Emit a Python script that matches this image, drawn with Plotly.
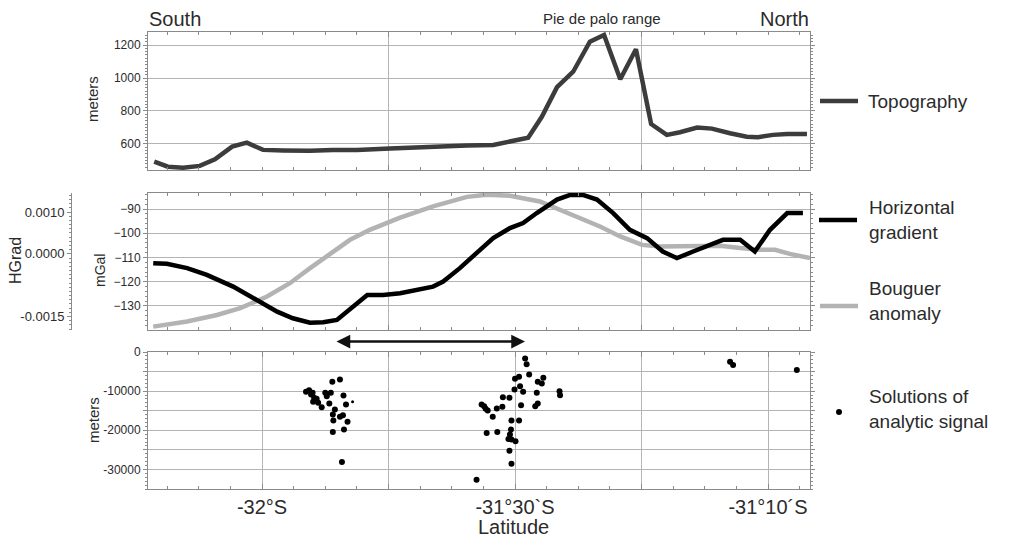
import plotly.graph_objects as go

W, H = 1009, 539

# ---------------- data ----------------
topo_lat = [-32.213, -32.186, -32.156, -32.123, -32.093, -32.059, -32.030, -31.998, -31.958,
            -31.905, -31.860, -31.812, -31.747, -31.694, -31.662, -31.595, -31.543, -31.510,
            -31.474, -31.447, -31.417, -31.385, -31.352, -31.324, -31.292, -31.261, -31.231,
            -31.200, -31.174, -31.140, -31.111, -31.075, -31.042, -31.020, -30.990, -30.962,
            -30.923]
topo_m = [493, 462, 456, 467, 507, 584, 608, 564, 560, 558, 564, 564, 572, 578, 588, 590, 594,
          614, 638, 765, 944, 1038, 1220, 1261, 992, 1174, 721, 655, 671, 699, 693, 665, 644,
          641, 655, 661, 661]

boug_lat = [-32.215, -32.148, -32.089, -32.043, -31.990, -31.945, -31.905, -31.860, -31.826,
            -31.787, -31.727, -31.662, -31.595, -31.555, -31.510, -31.451, -31.411, -31.372,
            -31.332, -31.292, -31.249, -31.213, -31.154, -31.095, -31.055, -31.016, -30.986,
            -30.957, -30.917]
boug_mgal = [-138.5, -136.4, -133.7, -130.9, -126.1, -120.6, -114.4, -107.5, -102.7, -98.6,
             -93.6, -88.9, -85.0, -84.1, -84.5, -86.9, -90.3, -93.7, -97.2, -101.3, -104.8,
             -105.5, -105.5, -105.2, -106.1, -106.8, -106.8, -108.5, -110.2]

hg_lat = [-32.215, -32.188, -32.148, -32.109, -32.057, -32.010, -31.970, -31.939, -31.905,
          -31.879, -31.852, -31.792, -31.761, -31.727, -31.662, -31.642, -31.609, -31.569,
          -31.543, -31.510, -31.484, -31.457, -31.417, -31.391, -31.366, -31.338, -31.306,
          -31.273, -31.239, -31.208, -31.180, -31.148, -31.115, -31.089, -31.055, -31.026,
          -30.996, -30.962, -30.931]
hg_val = [-0.000223, -0.000240, -0.000343, -0.000504, -0.000784, -0.001103, -0.001384,
          -0.001542, -0.001647, -0.001638, -0.001583, -0.000983, -0.000983, -0.000942,
          -0.000784, -0.000664, -0.000343, 0.000096, 0.000376, 0.000616, 0.000736, 0.000976,
          0.001300, 0.001410, 0.001410, 0.001300, 0.000976, 0.000576, 0.000376, 0.000055,
          -0.000103, 0.000055, 0.000216, 0.000336, 0.000336, 0.000055, 0.000576, 0.000976,
          0.000976]

sol_lat = [-31.861, -31.846, -31.913, -31.907, -31.903, -31.900, -31.897, -31.899, -31.892,
           -31.889, -31.882, -31.875, -31.872, -31.864, -31.867, -31.856, -31.860, -31.846,
           -31.859, -31.839, -31.834, -31.840, -31.831, -31.838, -31.860, -31.842,
           -31.480, -31.477, -31.472, -31.500, -31.492, -31.455, -31.444, -31.447, -31.501,
           -31.490, -31.484, -31.457, -31.412, -31.411, -31.524, -31.511, -31.488, -31.460,
           -31.455, -31.566, -31.558, -31.561, -31.554, -31.536, -31.525, -31.544, -31.507,
           -31.492, -31.556, -31.535, -31.508, -31.510, -31.513, -31.507, -31.499, -31.511,
           -31.507, -31.576,
           -31.075, -31.069, -30.943]
sol_depth = [-7590, -7000, -10150, -9740, -10850, -10410, -11690, -12720, -11950, -12970,
             -14100, -10410, -11280, -10410, -13150, -14690, -15970, -16560, -17510, -11100,
             -13410, -16150, -17850, -19820, -20410, -28100,
             -1690, -3150, -5720, -6820, -6310, -7590, -6560, -8030, -9560, -8720, -10150,
             -10410, -10000, -11030, -11540, -11690, -13590, -13850, -13150, -13410, -14510,
             -13850, -14950, -14440, -14000, -16560, -17510, -17510, -20670, -20410, -19820,
             -21100, -22200, -22380, -22820, -25200, -28540, -32640,
             -2460, -3330, -4620]
small_lat = [-31.821]
small_depth = [-12720]

x_ticks = [-32.0, -31.75, -31.5, -31.25, -31.0]
x_ticktext = ['-32°S', '', '-31°30`S', '', '-31°10´S']
topo_ticks = [600, 800, 1000, 1200]
mgal_ticks = [-90, -100, -110, -120, -130]
hg_ticks = [0.0010, 0.0000, -0.0015]
hg_ticktext = ['0.0010', '0.0000', '-0.0015']
depth_ticks = [0, -5000, -10000, -15000, -20000, -25000, -30000]
depth_ticktext = ['0', '', '-10000', '', '-20000', '', '-30000']

# ---------------- helpers ----------------
def px(x):
    return x / W

def py(y):
    return 1 - y / H

FONT = 'Liberation Sans, Arial, sans-serif'
TXT = '#2b2b2b'
FRAME = '#8a8a8a'
GRID = '#b4b4b4'
XR = [-32.2253, -30.917]
XDOM = [px(148), px(810)]

fig = go.Figure()
fig.add_trace(go.Scatter(x=topo_lat, y=topo_m, xaxis='x', yaxis='y', mode='lines',
                         line=dict(color='#3c3c3c', width=4.5), showlegend=False))
fig.add_trace(go.Scatter(x=boug_lat, y=boug_mgal, xaxis='x2', yaxis='y2', mode='lines',
                         line=dict(color='#b3b3b3', width=4.5), showlegend=False))
fig.add_trace(go.Scatter(x=hg_lat, y=hg_val, xaxis='x2', yaxis='y4', mode='lines',
                         line=dict(color='#000000', width=4.5), showlegend=False))
fig.add_trace(go.Scatter(x=sol_lat, y=sol_depth, xaxis='x3', yaxis='y3', mode='markers',
                         marker=dict(color='#000000', size=6), showlegend=False))
fig.add_trace(go.Scatter(x=small_lat, y=small_depth, xaxis='x3', yaxis='y3', mode='markers',
                         marker=dict(color='#000000', size=3), showlegend=False))

def xaxis(anchor, ticks_vals, labels):
    d = dict(domain=XDOM, range=XR, anchor=anchor, showline=True, linecolor=FRAME,
             linewidth=1, mirror='ticks', ticks='inside', ticklen=5, tickcolor=FRAME,
             zeroline=False, showgrid=True, gridcolor=GRID, gridwidth=1,
             tickmode='array', tickvals=ticks_vals,
             minor=dict(tickmode='linear', tick0=-32, dtick=0.0625, ticks='inside',
                        ticklen=3, tickcolor=FRAME, showgrid=False),
             tickfont=dict(family=FONT, size=20, color=TXT))
    if labels is None:
        d['showticklabels'] = False
    else:
        d['ticktext'] = labels
    return d

def yaxis(anchor, dom, rng, vals, text, minor_dtick, grid=True):
    d = dict(domain=dom, range=rng, anchor=anchor, showline=True, linecolor=FRAME,
             linewidth=1, mirror='ticks', ticks='outside', ticklen=4, tickcolor=FRAME,
             zeroline=False, showgrid=grid, gridcolor=GRID, gridwidth=1,
             tickmode='array', tickvals=vals,
             minor=dict(tickmode='linear', dtick=minor_dtick, ticks='outside', ticklen=2,
                        tickcolor=FRAME, showgrid=False),
             tickfont=dict(family=FONT, size=12, color=TXT))
    if text is not None:
        d['ticktext'] = text
    return d

fig.update_layout(
    template='none',
    width=W, height=H,
    margin=dict(l=0, r=0, t=0, b=0, autoexpand=False),
    paper_bgcolor='white', plot_bgcolor='white',
    showlegend=False,
    xaxis=xaxis('y', [-31.75, -31.25], None),
    xaxis2=xaxis('y2', [-31.75, -31.25], None),
    xaxis3=xaxis('y3', x_ticks, x_ticktext),
    yaxis=yaxis('x', [py(170), py(32)], [442, 1279], topo_ticks, None, 20),
    yaxis2=yaxis('x2', [py(330), py(193)], [-139.9, -83.4], mgal_ticks, None, 2),
    yaxis3=yaxis('x3', [py(489), py(352)], [-35000, 0], depth_ticks, depth_ticktext, 1000),
    yaxis4=dict(overlaying='y2', anchor='free', position=px(71), side='left',
                range=[-0.001823, 0.001456], showline=True, linecolor=FRAME, linewidth=1,
                ticks='outside', ticklen=4, tickcolor=FRAME, showgrid=False, zeroline=False,
                tickmode='array', tickvals=hg_ticks, ticktext=hg_ticktext,
                minor=dict(tickmode='linear', dtick=0.0001, ticks='outside', ticklen=2,
                           tickcolor=FRAME, showgrid=False),
                tickfont=dict(family=FONT, size=13, color=TXT)),
)

ann = []
def text(x, y, s, size, xanchor='left', angle=0):
    ann.append(dict(x=px(x), y=py(y), xref='paper', yref='paper', text=s, showarrow=False,
                    xanchor=xanchor, yanchor='middle', textangle=angle, align='left',
                    font=dict(family=FONT, size=size, color=TXT)))

text(147, 19, 'South', 20)
text(811, 19, 'North', 20, xanchor='right')
text(602, 19, 'Pie de palo range', 15, xanchor='center')
text(93, 99, 'meters', 15, xanchor='center', angle=-90)
text(100, 271, 'mGal', 14, xanchor='center', angle=-90)
text(15, 261, 'HGrad', 16, xanchor='center', angle=-90)
text(93, 420, 'meters', 15, xanchor='center', angle=-90)
text(513, 527, 'Latitude', 20, xanchor='center')
# legend texts
text(866, 101, 'Topography', 19)
text(867, 220, 'Horizontal<br>gradient', 19)
text(867, 301, 'Bouguer<br>anomaly', 19)
text(867, 409, 'Solutions of<br>analytic signal', 19)

# double arrow between the middle and bottom panels
ann.append(dict(x=px(525), y=py(341.5), xref='paper', yref='paper', ax=-190, ay=0,
                axref='pixel', ayref='pixel', text='', showarrow=True, arrowhead=2,
                arrowside='end+start', arrowsize=1.1, arrowwidth=2.5, arrowcolor='#111111',
                standoff=0, startstandoff=0))
fig.update_layout(annotations=ann)

# legend symbols
shapes = [
    dict(type='line', xref='paper', yref='paper', x0=px(820), x1=px(858), y0=py(101), y1=py(101),
         line=dict(color='#3c3c3c', width=4.5)),
    dict(type='line', xref='paper', yref='paper', x0=px(819), x1=px(857), y0=py(220), y1=py(220),
         line=dict(color='#000000', width=4.5)),
    dict(type='line', xref='paper', yref='paper', x0=px(820), x1=px(858), y0=py(306), y1=py(306),
         line=dict(color='#b3b3b3', width=4.5)),
    dict(type='circle', xref='paper', yref='paper', x0=px(836), x1=px(842), y0=py(415), y1=py(409),
         fillcolor='#000000', line=dict(color='#000000', width=0)),
]
fig.update_layout(shapes=shapes)

fig.write_html('out.html')
